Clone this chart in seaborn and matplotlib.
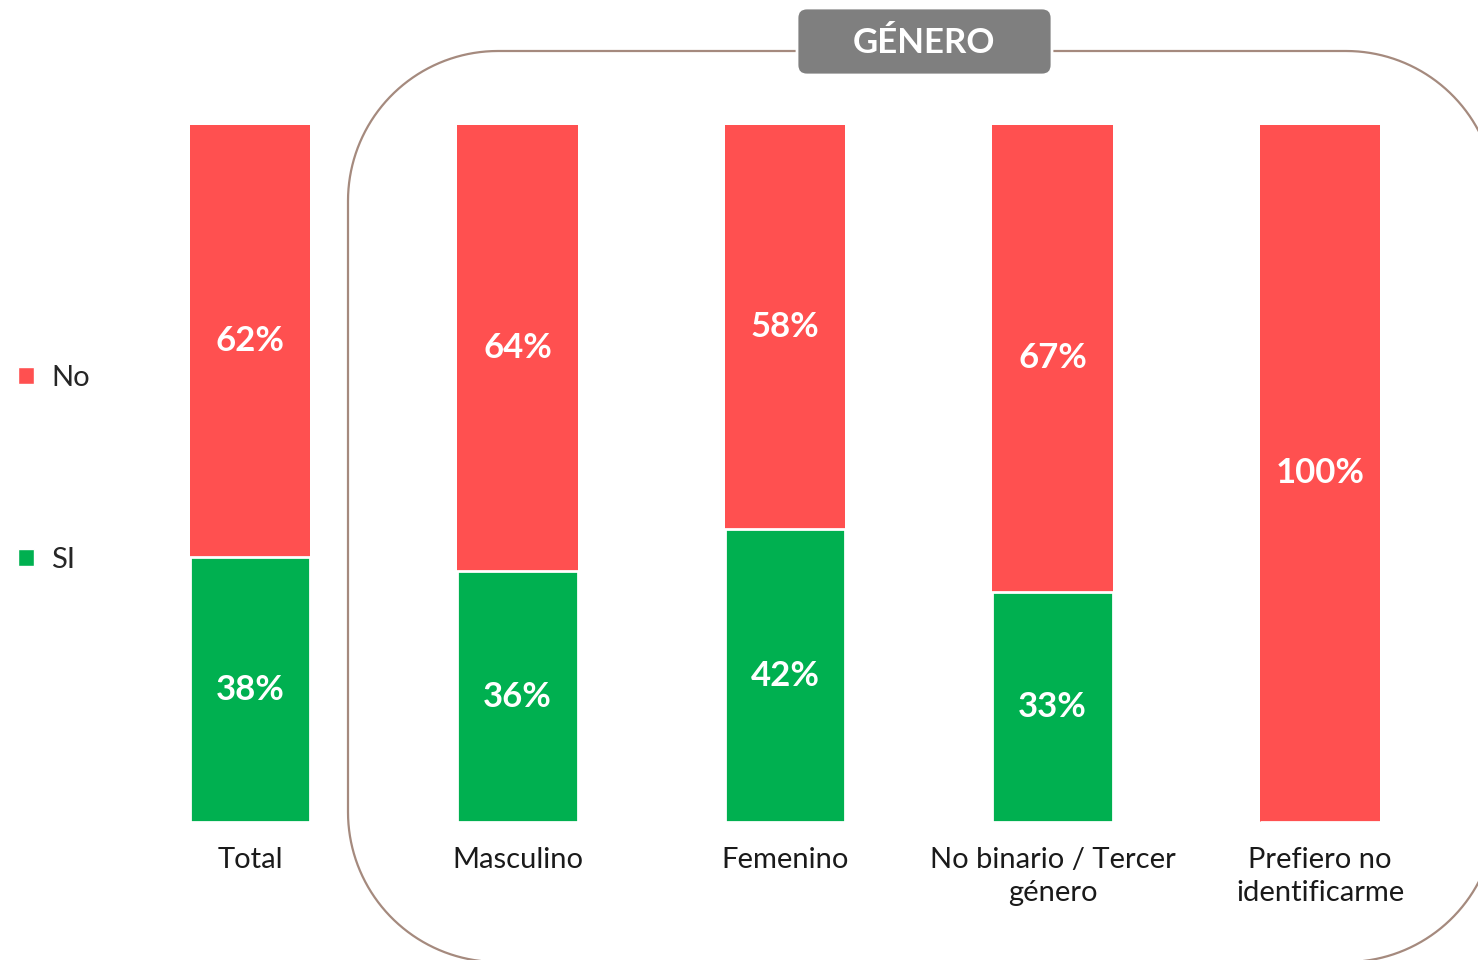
import matplotlib
matplotlib.use('Agg')
import matplotlib.pyplot as plt
from matplotlib.patches import FancyBboxPatch, Patch, Polygon
import numpy as np
import seaborn as sns
import pandas as pd

# datos
categorias = ["Total", "Masculino", "Femenino", "No binario / Tercer\ngénero", "Prefiero no\nidentificarme"]
si = [38, 36, 42, 33, 0]
no = [62, 64, 58, 67, 100]

ROJO = "#FF5050"
VERDE = "#00B050"

df = pd.DataFrame({"cat": categorias, "si": si, "no": no})
df["total"] = df["si"] + df["no"]

sns.set_theme(style="white")
plt.rcParams['font.family'] = ['Lato', 'DejaVu Sans']

W, H = 14.78, 9.60
fig = plt.figure(figsize=(W, H), dpi=100)
ax = fig.add_axes([0, (960 - 822) / 960, 1, 697 / 960])
ax.patch.set_visible(False)

# barras apiladas: total (No) detrás, SI delante
sns.barplot(data=df, x="cat", y="total", color=ROJO, width=0.45, saturation=1,
            edgecolor="white", linewidth=0, ax=ax)
sns.barplot(data=df, x="cat", y="si", color=VERDE, width=0.45, saturation=1,
            edgecolor="white", linewidth=2, ax=ax)

for i, row in df.iterrows():
    if row["no"] > 0:
        ax.text(i, row["si"] + row["no"] / 2, f"{row['no']}%", ha="center", va="center",
                color="white", fontsize=25, fontweight="bold")
    if row["si"] > 0:
        ax.text(i, row["si"] / 2, f"{row['si']}%", ha="center", va="center",
                color="white", fontsize=25, fontweight="bold")

ax.set_xlim(-250 / 267.5, (1478 - 250) / 267.5)
ax.set_ylim(0, 100)
ax.set_xlabel("")
ax.set_ylabel("")
ax.set_yticks([])
sns.despine(ax=ax, left=True, bottom=True)
ax.tick_params(axis="x", length=0, pad=18, labelsize=21, labelcolor="#1a1a1a")
for t in ax.get_xticklabels():
    t.set_linespacing(1.35)
    t.set_verticalalignment("top")


# marco redondeado de GÉNERO (en pulgadas, esquinas circulares)
def rect_redondeado(x0, y0, x1, y1, r, n=40):
    pts = []
    for cx, cy, a0 in [(x1 - r, y1 - r, 0), (x0 + r, y1 - r, 90),
                       (x0 + r, y0 + r, 180), (x1 - r, y0 + r, 270)]:
        ang = np.radians(np.linspace(a0, a0 + 90, n))
        pts.append(np.column_stack([cx + r * np.cos(ang), cy + r * np.sin(ang)]))
    return np.vstack(pts)


marco = Polygon(rect_redondeado(3.48, -0.02, 14.96, 9.09, 1.5), closed=True, fill=False,
                transform=fig.dpi_scale_trans, edgecolor="#A58A7E", linewidth=1.6,
                clip_on=False, zorder=0)
fig.add_artist(marco)

cab = FancyBboxPatch((7.97, (960 - 75) / 100), 2.55, 0.67,
                     boxstyle="round,pad=0,rounding_size=0.1",
                     transform=fig.dpi_scale_trans, facecolor="#7F7F7F",
                     edgecolor="white", linewidth=2, clip_on=False, zorder=5)
fig.add_artist(cab)
fig.text(9.245 / W, (960 - 43) / 960, "GÉNERO", ha="center", va="center",
         color="white", fontsize=25, fontweight="bold", zorder=6)

# leyenda
handles = [Patch(facecolor=ROJO, label="No"), Patch(facecolor=VERDE, label="SI")]
fig.legend(handles=handles, loc="center left", bbox_to_anchor=(0.0, (960 - 469) / 960),
           frameon=False, fontsize=21, handlelength=0.55, handleheight=0.55,
           handletextpad=0.6, labelspacing=5.35, borderaxespad=0.2)

fig.savefig("out.png", dpi=100)
